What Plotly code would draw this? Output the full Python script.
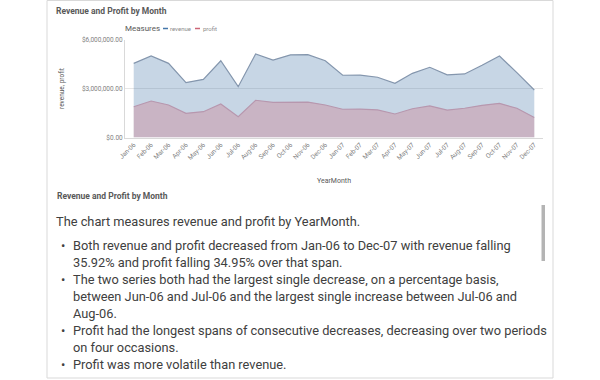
import plotly.graph_objects as go

months = ["Jan-06", "Feb-06", "Mar-06", "Apr-06", "May-06", "Jun-06", "Jul-06", "Aug-06",
          "Sep-06", "Oct-06", "Nov-06", "Dec-06", "Jan-07", "Feb-07", "Mar-07", "Apr-07",
          "May-07", "Jun-07", "Jul-07", "Aug-07", "Sep-07", "Oct-07", "Nov-07", "Dec-07"]
revenue = [4540000, 4990000, 4540000, 3360000, 3560000, 4700000, 3110000, 5110000,
           4740000, 5060000, 5070000, 4700000, 3810000, 3820000, 3690000, 3320000,
           3930000, 4300000, 3840000, 3890000, 4420000, 4990000, 3970000, 2910000]
profit = [1886000, 2235000, 1990000, 1480000, 1580000, 2050000, 1270000, 2280000,
          2150000, 2160000, 2170000, 1990000, 1730000, 1740000, 1690000, 1440000,
          1760000, 1930000, 1680000, 1790000, 1970000, 2090000, 1790000, 1227000]
y_tick_values = [0, 3000000, 6000000]
y_tick_labels = ["$0.00", "$3,000,000.00", "$6,000,000.00"]

title_text = "Revenue and Profit by Month"
narrative_intro = "The chart measures revenue and profit by YearMonth."
narrative_lines = [
    ("•", "Both revenue and profit decreased from Jan-06 to Dec-07 with revenue falling"),
    ("", "35.92% and profit falling 34.95% over that span."),
    ("•", "The two series both had the largest single decrease, on a percentage basis,"),
    ("", "between Jun-06 and Jul-06 and the largest single increase between Jul-06 and"),
    ("", "Aug-06."),
    ("•", "Profit had the longest spans of consecutive decreases, decreasing over two periods"),
    ("", "on four occasions."),
    ("•", "Profit was more volatile than revenue."),
]

W, H = 600, 380
FONT = "Roboto"
BODY = 12.8


def px(x):
    return x / W


def py(y):
    return 1 - y / H


fig = go.Figure()
fig.add_trace(go.Scatter(
    x=months, y=revenue, name="revenue", mode="lines", fill="tozeroy",
    fillcolor="rgba(68,119,170,0.30)", line=dict(color="#8496ad", width=1.2),
    showlegend=False, hoverinfo="x+y"))
fig.add_trace(go.Scatter(
    x=months, y=profit, name="profit", mode="lines", fill="tozeroy",
    fillcolor="rgba(204,102,119,0.30)", line=dict(color="#b797ae", width=1.2),
    showlegend=False, hoverinfo="x+y"))

fig.update_layout(
    template="none",
    width=W, height=H,
    margin=dict(l=0, r=0, t=0, b=0, pad=0),
    paper_bgcolor="white", plot_bgcolor="white",
    font=dict(family=FONT, color="#595959"),
    showlegend=False,
    xaxis=dict(
        domain=[px(125), px(543)], automargin=False,
        type="category", range=[-0.5, len(months) - 0.5],
        tickangle=-45, tickfont=dict(size=6.5, color="#7f7f7f"),
        showgrid=False, zeroline=False, showline=True, linecolor="#d9d9d9", linewidth=1,
        ticks="", fixedrange=True,
    ),
    yaxis=dict(
        domain=[py(137.5), py(39.5)], automargin=False,
        range=[0, 6000000],
        tickvals=y_tick_values, ticktext=y_tick_labels,
        tickfont=dict(size=6.5, color="#7f7f7f"),
        showgrid=True, gridcolor="#e6e6e6", gridwidth=1,
        zeroline=False, showline=True, linecolor="#d9d9d9", linewidth=1,
        ticks="", ticklen=0,
        title=dict(text="revenue, profit", font=dict(size=6.5, color="#595959"), standoff=16),
        fixedrange=True,
    ),
)

shapes = []
# outer frame of the two panels
shapes.append(dict(type="rect", xref="paper", yref="paper",
                   x0=px(47), x1=px(553), y0=py(378), y1=py(0.5),
                   line=dict(color="#d9d9d9", width=1), fillcolor="rgba(0,0,0,0)"))
# legend dashes
shapes.append(dict(type="line", xref="paper", yref="paper",
                   x0=px(163), x1=px(168), y0=py(28.5), y1=py(28.5),
                   line=dict(color="#4477aa", width=1.5)))
shapes.append(dict(type="line", xref="paper", yref="paper",
                   x0=px(195), x1=px(200), y0=py(28.5), y1=py(28.5),
                   line=dict(color="#cc6677", width=1.5)))
# scrollbar
shapes.append(dict(type="rect", xref="paper", yref="paper",
                   x0=px(541.5), x1=px(545), y0=py(261), y1=py(205),
                   line=dict(width=0), fillcolor="#b4b4b4"))

ann = []


def text(t, x, y, size, color, bold=False, anchor="left"):
    ann.append(dict(text=("<b>" + t + "</b>") if bold else t, x=px(x), y=py(y),
                    xref="paper", yref="paper", xanchor=anchor, yanchor="middle",
                    showarrow=False, borderpad=0,
                    font=dict(size=size, color=color, family=FONT)))


text(title_text, 55, 10.5, 8.5, "#595959", bold=True)
text("Measures", 124, 28.5, 8, "#595959")
text("revenue", 169.5, 28.5, 6, "#8c8c8c")
text("profit", 201.5, 28.5, 6, "#8c8c8c")
text("YearMonth", 334, 181, 7, "#595959", anchor="center")
text(title_text, 55.5, 196, 8.5, "#595959", bold=True)
text(narrative_intro, 55, 221, BODY, "#404040")
y0 = 245
for i, (bullet, line) in enumerate(narrative_lines):
    yy = y0 + i * 17.1
    if bullet:
        text(bullet, 60, yy, BODY, "#404040")
    text(line, 71.5, yy, BODY, "#404040")

fig.update_layout(shapes=shapes, annotations=ann)
fig.write_html(
    "out.html",
    config={"displayModeBar": False},
    post_script="document.body.style.margin='0';document.body.style.overflow='hidden';",
)
